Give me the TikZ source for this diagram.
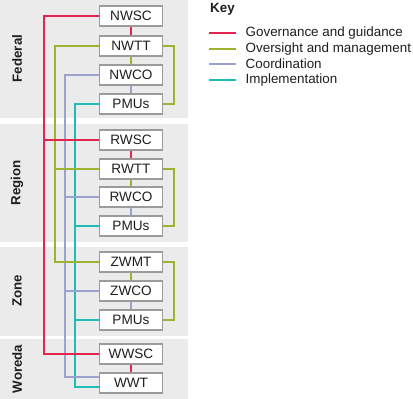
\documentclass[tikz,border=0pt]{standalone}
\usepackage{fontspec}
\setmainfont{Liberation Sans}
\usetikzlibrary{calc}
\definecolor{govc}{HTML}{E3264F}
\definecolor{ovc}{HTML}{9BB32F}
\definecolor{coc}{HTML}{9CA2CE}
\definecolor{imc}{HTML}{1FBDB8}
\definecolor{bandc}{HTML}{EBEBEC}
\definecolor{boxc}{HTML}{9B9B9B}
\definecolor{txtc}{HTML}{1E1E1E}
\begin{document}
\begin{tikzpicture}[x=1pt,y=-1pt,
  band/.style={fill=bandc,draw=none},
  bandlabel/.style={rotate=90,font=\fontsize{13.3}{16}\selectfont\bfseries,text=txtc},
  unit/.style={draw=boxc,line width=1.5pt,fill=white,minimum width=63pt,minimum height=20pt,inner sep=0pt,font=\fontsize{13.6}{16}\selectfont,text=txtc},
  link/.style={line width=1.9pt},
  keytext/.style={anchor=west,font=\fontsize{13.4}{16}\selectfont,text=txtc,inner sep=0pt}
]
\useasboundingbox (0,0) rectangle (413,399);
% bands
\fill[band] (0,0) rectangle (188,117.5);
\fill[band] (0,123.5) rectangle (188,241.5);
\fill[band] (0,246.5) rectangle (188,335.5);
\fill[band] (0,339) rectangle (188,398.5);
\node[bandlabel] (lfed) at (17,58.5) {Federal};
\node[bandlabel] (lreg) at (17,183) {Region};
\node[bandlabel] (lzon) at (17,291) {Zone};
\node[bandlabel] (lwor) at (17,369) {Woreda};
% coordinates for vertical trunks
\coordinate (rx) at (44,0);
\coordinate (gx) at (55,0);
\coordinate (bx) at (65,0);
\coordinate (cx) at (75,0);
% boxes
\node[unit] (NWSC) at (131,16) {NWSC};
\node[unit] (NWTT) at (131,46) {NWTT};
\node[unit] (NWCO) at (131,75) {NWCO};
\node[unit] (PMA) at (131,104) {PMUs};
\node[unit] (RWSC) at (131,140) {RWSC};
\node[unit] (RWTT) at (131,169) {RWTT};
\node[unit] (RWCO) at (131,197) {RWCO};
\node[unit] (PMB) at (131,226) {PMUs};
\node[unit] (ZWMT) at (131,262) {ZWMT};
\node[unit] (ZWCO) at (131,291) {ZWCO};
\node[unit] (PMC) at (131,320) {PMUs};
\node[unit] (WWSC) at (131,354) {WWSC};
\node[unit] (WWT) at (131,383) {WWT};
\coordinate (wwtc) at ($(WWT.west)+(0,4)$);
\coordinate (wwtb) at ($(WWT.west)+(0,-6)$);
% cyan
\draw[link,imc] (PMA.west) -- (PMA.west -| cx) |- (wwtc);
\draw[link,imc] (PMB.west) -- (PMB.west -| cx);
\draw[link,imc] (PMC.west) -- (PMC.west -| cx);
% blue
\draw[link,coc] (NWCO.west) -- (NWCO.west -| bx) |- (wwtb);
\draw[link,coc] (RWCO.west) -- (RWCO.west -| bx);
\draw[link,coc] (ZWCO.west) -- (ZWCO.west -| bx);
\draw[link,coc] (NWCO) -- (PMA);
\draw[link,coc] (RWCO) -- (PMB);
\draw[link,coc] (ZWCO) -- (PMC);
% green
\draw[link,ovc] (NWTT.west) -- (NWTT.west -| gx) |- (ZWMT.west);
\draw[link,ovc] (RWTT.west) -- (RWTT.west -| gx);
\draw[link,ovc] (NWTT) -- (NWCO);
\draw[link,ovc] (RWTT) -- (RWCO);
\draw[link,ovc] (ZWMT) -- (ZWCO);
\draw[link,ovc] (NWTT.east) -- ++(11,0) |- (PMA.east);
\draw[link,ovc] (RWTT.east) -- ++(11,0) |- (PMB.east);
\draw[link,ovc] (ZWMT.east) -- ++(11,0) |- (PMC.east);
% red
\draw[link,govc] (NWSC.west) -- (NWSC.west -| rx) |- (WWSC.west);
\draw[link,govc] (RWSC.west) -- (RWSC.west -| rx);
\draw[link,govc] (NWSC) -- (NWTT);
\draw[link,govc] (RWSC) -- (RWTT);
\draw[link,govc] (WWSC) -- (WWT);
% boxes on top of connectors
\foreach \n/\t in {NWSC/NWSC,NWTT/NWTT,NWCO/NWCO,PMA/PMUs,RWSC/RWSC,RWTT/RWTT,RWCO/RWCO,PMB/PMUs,ZWMT/ZWMT,ZWCO/ZWCO,PMC/PMUs,WWSC/WWSC,WWT/WWT}
  \node[unit] at (\n) {\t};
% key
\node[anchor=west,inner sep=0pt,font=\fontsize{13.4}{16}\selectfont\bfseries,text=txtc] (key) at (210,9) {Key};
\coordinate (k1a) at (209,33); \coordinate (k1b) at (236,33);
\coordinate (k2a) at (209,49); \coordinate (k2b) at (236,49);
\coordinate (k3a) at (209,64); \coordinate (k3b) at (236,64);
\coordinate (k4a) at (209,80); \coordinate (k4b) at (236,80);
\draw[link,govc] (k1a) -- (k1b);
\draw[link,ovc] (k2a) -- (k2b);
\draw[link,coc] (k3a) -- (k3b);
\draw[link,imc] (k4a) -- (k4b);
\node[keytext] (t1) at (245.5,33) {Governance and guidance};
\node[keytext] (t2) at (245.5,49) {Oversight and management};
\node[keytext] (t3) at (245.5,64) {Coordination};
\node[keytext] (t4) at (245.5,80) {Implementation};
\end{tikzpicture}
\end{document}
